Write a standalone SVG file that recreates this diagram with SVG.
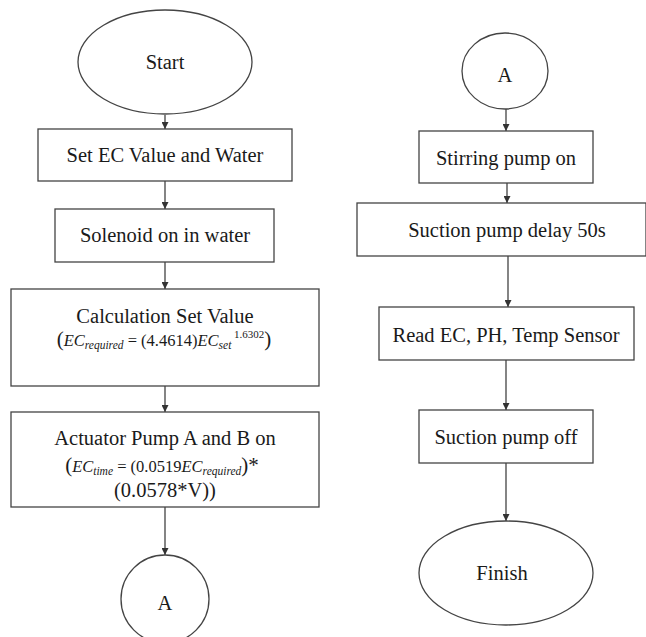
<svg xmlns="http://www.w3.org/2000/svg" width="646" height="637" viewBox="0 0 646 637">
  <defs>
    <marker id="arrow" viewBox="0 0 8 8" refX="8" refY="4" markerWidth="7" markerHeight="7" markerUnits="userSpaceOnUse" orient="auto">
      <path d="M0,0 L8,4 L0,8 Z" fill="#333"/>
    </marker>
    <style>
      .shape { fill: #fff; stroke: #444; stroke-width: 1.3; }
      text { font-family: 'Liberation Serif', 'DejaVu Serif', serif; fill: #1a1a1a; text-anchor: middle; }
      .label { font-size: 20.5px; }
      .eq { font-size: 16.5px; }
      .it { font-style: italic; }
      .sub { font-style: italic; font-size: 11.5px; }
      .sup { font-size: 11px; }
      .par { font-size: 21px; }
      .edge { stroke: #333; stroke-width: 1.2; fill: none; marker-end: url(#arrow); }
    </style>
  </defs>
  <rect width="646" height="637" fill="#fff"/>

  <!-- connectors -->
  <g id="connectors">
    <line class="edge" x1="165" y1="115" x2="165" y2="129"/>
    <line class="edge" x1="165" y1="181" x2="165" y2="209"/>
    <line class="edge" x1="165" y1="262" x2="165" y2="289"/>
    <line class="edge" x1="165" y1="360" x2="165" y2="412"/>
    <line class="edge" x1="165" y1="507" x2="165" y2="555"/>
    <line class="edge" x1="506" y1="109" x2="506" y2="131"/>
    <line class="edge" x1="507" y1="183" x2="507" y2="203"/>
    <line class="edge" x1="508" y1="256" x2="508" y2="307"/>
    <line class="edge" x1="506" y1="360" x2="506" y2="410"/>
    <line class="edge" x1="506" y1="463" x2="506" y2="521"/>
  </g>

  <!-- left column -->
  <g id="start">
    <ellipse class="shape" cx="165" cy="62" rx="87" ry="52"/>
    <text class="label" x="165" y="69">Start</text>
  </g>
  <g id="set-ec">
    <rect class="shape" x="38" y="129" width="254" height="52"/>
    <text class="label" x="165" y="162">Set EC Value and Water</text>
  </g>
  <g id="solenoid">
    <rect class="shape" x="55" y="209" width="219" height="53"/>
    <text class="label" x="165" y="242">Solenoid on in water</text>
  </g>
  <g id="calculation">
    <rect class="shape" x="11" y="289" width="308" height="97"/>
    <text class="label" x="165" y="323">Calculation Set Value</text>
    <text class="eq" x="164" y="346"><tspan class="par">(</tspan><tspan class="it">EC</tspan><tspan class="sub" dy="3">required</tspan><tspan dy="-3"> = (4.4614)</tspan><tspan class="it">EC</tspan><tspan class="sub" dy="3">set</tspan><tspan class="sup" dy="-11"> 1.6302</tspan><tspan class="par" dy="8">)</tspan></text>
  </g>
  <g id="actuator">
    <rect class="shape" x="11" y="412" width="308" height="95"/>
    <text class="label" x="165" y="445">Actuator Pump A and B on</text>
    <text class="eq" x="162" y="472"><tspan class="par">(</tspan><tspan class="it">EC</tspan><tspan class="sub" dy="3">time</tspan><tspan dy="-3"> = (0.0519</tspan><tspan class="it">EC</tspan><tspan class="sub" dy="3">required</tspan><tspan class="par" dy="-3">)*</tspan></text>
    <text class="label" x="165" y="497">(0.0578*V))</text>
  </g>
  <g id="connector-a-out">
    <ellipse class="shape" cx="165" cy="599" rx="44" ry="44"/>
    <text class="label" x="165" y="610">A</text>
  </g>

  <!-- right column -->
  <g id="connector-a-in">
    <ellipse class="shape" cx="505" cy="71" rx="43" ry="38"/>
    <text class="label" x="505" y="82">A</text>
  </g>
  <g id="stirring">
    <rect class="shape" x="419" y="131" width="174" height="52"/>
    <text class="label" x="506" y="165">Stirring pump on</text>
  </g>
  <g id="suction-delay">
    <rect class="shape" x="357" y="203" width="289" height="53"/>
    <text class="label" x="507" y="237">Suction pump delay 50s</text>
  </g>
  <g id="read-sensors">
    <rect class="shape" x="379" y="307" width="255" height="53"/>
    <text class="label" x="506" y="342">Read EC, PH, Temp Sensor</text>
  </g>
  <g id="suction-off">
    <rect class="shape" x="419" y="410" width="174" height="53"/>
    <text class="label" x="506" y="444">Suction pump off</text>
  </g>
  <g id="finish">
    <ellipse class="shape" cx="506" cy="573" rx="87" ry="52"/>
    <text class="label" x="502" y="580">Finish</text>
  </g>
</svg>
